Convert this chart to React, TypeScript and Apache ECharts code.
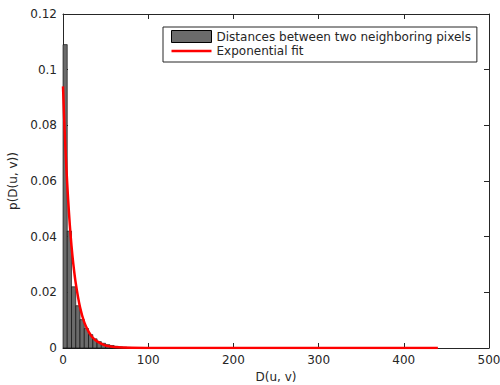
import React, { useEffect, useRef } from "react";
import * as echarts from "echarts";

const binEdges = [0, 5, 10, 15, 20, 25, 30, 35, 40, 45, 50, 55, 60, 65, 70, 75, 80, 85, 90, 95, 100];
const binValues = [0.109, 0.042, 0.022, 0.0152, 0.0102, 0.007, 0.0048, 0.0033, 0.0023, 0.0017, 0.0012, 0.0009, 0.0006, 0.0004, 0.0003, 0.0002, 0.00015, 0.0001, 0.00008, 0.00005];

const fitX = [0, 2, 4, 6, 8, 10, 12, 15, 20, 25, 30, 35, 40, 50, 60, 80, 100, 150, 200, 300, 440];
const fitY = [0.094, 0.0778, 0.0645, 0.0534, 0.0442, 0.0366, 0.0305, 0.0232, 0.0146, 0.0092, 0.0059, 0.0037, 0.0024, 0.0009, 0.0004, 0.00006, 0.00001, 0, 0, 0, 0];

const xTicks = [0, 100, 200, 300, 400, 500];
const yTicks = [0, 0.02, 0.04, 0.06, 0.08, 0.1, 0.12];

const histName = "Distances between two neighboring pixels";
const fitName = "Exponential fit";

const lineIcon =
  "path://M0,0 L0.01,0 L0.01,0.01 Z M0,4.75 L40,4.75 L40,7.25 L0,7.25 Z M39.99,11.99 L40,11.99 L40,12 Z";

export default function App() {
  const ref = useRef<HTMLDivElement>(null);
  useEffect(() => {
    if (!ref.current) return;
    const chart = echarts.init(ref.current, undefined, { renderer: "svg" });
    const font = "DejaVu Sans";
    const textColor = "#262626";
    const histData = binValues.map((v, i) => [binEdges[i], binEdges[i + 1], v]);
    const fitData = fitX.map((x, i) => [x, fitY[i]]);
    const axisCommon = {
      type: "value" as const,
      axisLine: { show: true, onZero: false, lineStyle: { color: textColor, width: 1 } },
      axisTick: { show: true, inside: true, length: 5, lineStyle: { color: textColor } },
      splitLine: { show: false },
    };
    chart.setOption({
      animation: false,
      backgroundColor: "#ffffff",
      grid: { left: 63, right: 11, top: 14, bottom: 37, containLabel: false, outerBoundsMode: "none" },
      legend: {
        orient: "vertical",
        left: 163,
        top: 27,
        padding: [3, 6, 5, 8],
        itemGap: 2,
        itemWidth: 40,
        itemHeight: 12,
        borderColor: textColor,
        borderWidth: 1,
        borderRadius: 0,
        backgroundColor: "#ffffff",
        textStyle: { fontFamily: font, fontSize: 12, color: textColor },
        data: [
          { name: histName, icon: "rect", itemStyle: { color: "#6b6b6b", borderColor: "#000", borderWidth: 1 } },
          { name: fitName, icon: lineIcon, itemStyle: { color: "#ff0000", borderWidth: 0 } },
        ],
      },
      xAxis: [
        {
          ...axisCommon,
          min: 0,
          max: 500,
          interval: 100,
          position: "bottom",
          name: "D(u, v)",
          nameLocation: "middle",
          nameGap: 23,
          nameTextStyle: { fontFamily: font, fontSize: 12, color: textColor },
          axisLabel: {
            fontFamily: font,
            fontSize: 12,
            color: textColor,
            margin: 6,
            formatter: (v: number) => (xTicks.includes(v) ? String(v) : ""),
          },
        },
        {
          ...axisCommon,
          min: 0,
          max: 500,
          interval: 100,
          position: "top",
          axisLabel: { show: false },
        },
      ],
      yAxis: [
        {
          ...axisCommon,
          min: 0,
          max: 0.12,
          interval: 0.02,
          position: "left",
          name: "p(D(u, v))",
          nameLocation: "middle",
          nameGap: 37,
          nameTextStyle: { fontFamily: font, fontSize: 12, color: textColor },
          axisLabel: {
            fontFamily: font,
            fontSize: 12,
            color: textColor,
            margin: 6,
            formatter: (v: number) => {
              const t = yTicks.find((k) => Math.abs(k - v) < 1e-9);
              return t === undefined ? "" : String(t);
            },
          },
        },
        {
          ...axisCommon,
          min: 0,
          max: 0.12,
          interval: 0.02,
          position: "right",
          axisLabel: { show: false },
        },
      ],
      series: [
        {
          name: histName,
          type: "custom",
          xAxisIndex: 0,
          yAxisIndex: 0,
          encode: { x: [0, 1], y: 2 },
          data: histData,
          renderItem: (params: any, api: any) => {
            const p0 = api.coord([api.value(0), api.value(2)]);
            const p1 = api.coord([api.value(1), 0]);
            return {
              type: "rect",
              shape: { x: p0[0], y: p0[1], width: p1[0] - p0[0], height: p1[1] - p0[1] },
              style: { fill: "#6b6b6b", stroke: "#000000", lineWidth: 0.6 },
            };
          },
          itemStyle: { color: "#6b6b6b" },
        },
        {
          name: fitName,
          type: "line",
          xAxisIndex: 0,
          yAxisIndex: 0,
          data: fitData,
          smooth: 0.3,
          symbol: "none",
          showSymbol: false,
          lineStyle: { color: "#ff0000", width: 2.5 },
          itemStyle: { color: "#ff0000" },
          z: 5,
        },
      ],
    });
    return () => chart.dispose();
  }, []);
  return <div ref={ref} style={{ width: 500, height: 385, position: "absolute", left: 0, top: 0 }} />;
}
